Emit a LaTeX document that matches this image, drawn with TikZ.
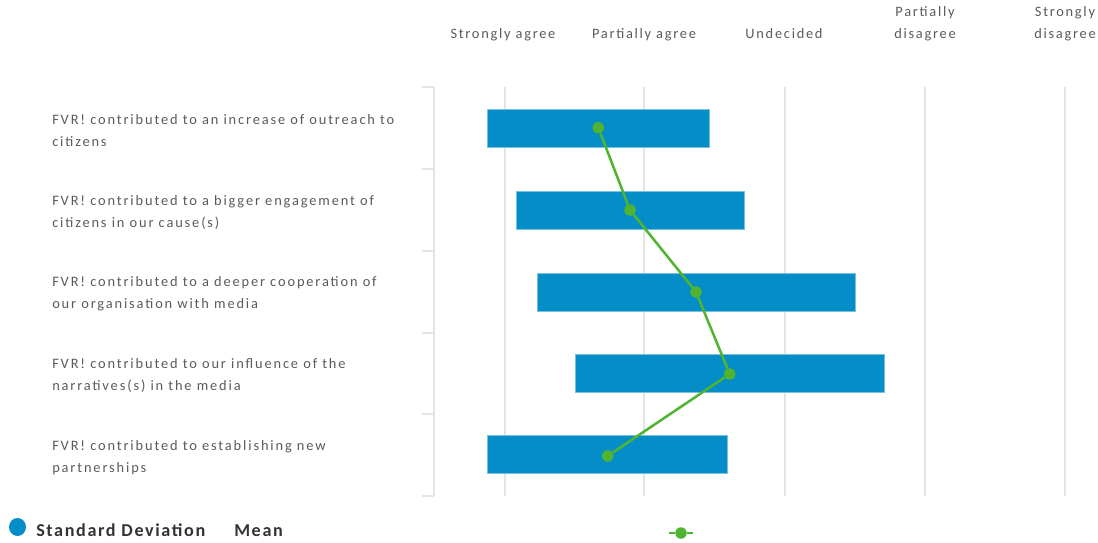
\documentclass[tikz,border=0pt]{standalone}
\usepackage{fontspec}
\setmainfont{Carlito}
\usetikzlibrary{shapes.geometric}
\definecolor{sdblue}{HTML}{058DC7}
\definecolor{meangreen}{HTML}{50B432}
\definecolor{gridgray}{HTML}{E4E4E4}
\definecolor{labelgray}{HTML}{5A5A5A}
\definecolor{keygray}{HTML}{333333}
\begin{document}
\begin{tikzpicture}[
	x=0.75pt, y=-0.75pt,
	bar/.style={draw=sdblue!55!white, line width=0.6pt, fill=sdblue, inner sep=0pt,
		minimum height=38*0.75pt, anchor=west},
	mean/.style={circle, fill=meangreen, inner sep=0pt, minimum size=11.5*0.75pt},
	meanline/.style={meangreen, line width=1.9pt},
	grid/.style={gridgray, line width=1.5pt},
	category/.style={font=\fontsize{10.8}{16.5}\selectfont\addfontfeature{LetterSpace=13},
		text=labelgray, align=left, anchor=west, inner sep=0pt},
	answer/.style={font=\fontsize{10.8}{16.5}\selectfont\addfontfeature{LetterSpace=12},
		text=labelgray, align=center, anchor=north, inner sep=0pt},
	legend/.style={font=\fontsize{13.6}{16}\selectfont\bfseries\addfontfeature{LetterSpace=9},
		text=keygray, anchor=base west, inner sep=0pt}]
   \useasboundingbox (0,0) rectangle (1098,542);
   \draw[grid] (505,87) -- (505,496);
   \draw[grid] (644,87) -- (644,496);
   \draw[grid] (784.5,87) -- (784.5,496);
   \draw[grid] (925,87) -- (925,496);
   \draw[grid] (1065,87) -- (1065,496);
   \draw[grid] (434,87) -- (434,496);
   \draw[grid] (422,87.3) -- (434,87.3);
   \draw[grid] (422,169.3) -- (434,169.3);
   \draw[grid] (422,251) -- (434,251);
   \draw[grid] (422,332.7) -- (434,332.7);
   \draw[grid] (422,414.3) -- (434,414.3);
   \draw[grid] (422,496) -- (434,496);
   \node (stronglyagree) [answer] at (503,28) {Strongly agree};
   \node (partiallyagree) [answer] at (644,28) {Partially agree};
   \node (undecided) [answer] at (784,28) {Undecided};
   \node (partiallydisagree) [answer] at (925,6.5) {Partially\\disagree};
   \node (stronglydisagree) [answer] at (1065,6.5) {Strongly\\disagree};
   \node (catoutreach) [category] at (52,130.3) {FVR! contributed to an increase of outreach to\\citizens};
   \node (catengagement) [category] at (52,212.2) {FVR! contributed to a bigger engagement of\\citizens in our cause(s)};
   \node (catmedia) [category] at (52,293.9) {FVR! contributed to a deeper cooperation of\\our organisation with media};
   \node (catnarratives) [category] at (52,375.5) {FVR! contributed to our influence of the\\narratives(s) in the media};
   \node (catpartners) [category] at (52,457.2) {FVR! contributed to establishing new\\partnerships};
   \node (sdoutreach) [bar, minimum width=222.2*0.75pt] at (486.5,128.4) {};
   \node (sdengagement) [bar, minimum width=228*0.75pt] at (516.3,210.1) {};
   \node (sdmedia) [bar, minimum width=317.4*0.75pt] at (537.3,292.1) {};
   \node (sdnarratives) [bar, minimum width=309.6*0.75pt] at (574.7,373.5) {};
   \node (sdpartners) [bar, minimum width=239.4*0.75pt] at (487.3,454.7) {};
   \node (meanoutreach) [mean] at (598.3,127.7) {};
   \node (meanengagement) [mean] at (630,210) {};
   \node (meanmedia) [mean] at (696,292) {};
   \node (meannarratives) [mean] at (729.7,374) {};
   \node (meanpartners) [mean] at (607.7,456) {};
   \draw[meanline] (meanoutreach) -- (meanengagement) -- (meanmedia)
      -- (meannarratives) -- (meanpartners);
   \node (sdkey) [ellipse, fill=sdblue, inner sep=0pt, minimum width=17*0.75pt,
      minimum height=18*0.75pt] at (17.5,527) {};
   \node (sdlabel) [legend] at (36,536) {Standard Deviation};
   \node (meanlabel) [legend] at (234,536) {Mean};
   \node (meankey) [mean] at (681,533) {};
   \coordinate (meankeyleft) at (669,533);
   \coordinate (meankeyright) at (693,533);
   \draw[meanline] (meankeyleft) -- (meankey) -- (meankeyright);
\end{tikzpicture}
\end{document}
